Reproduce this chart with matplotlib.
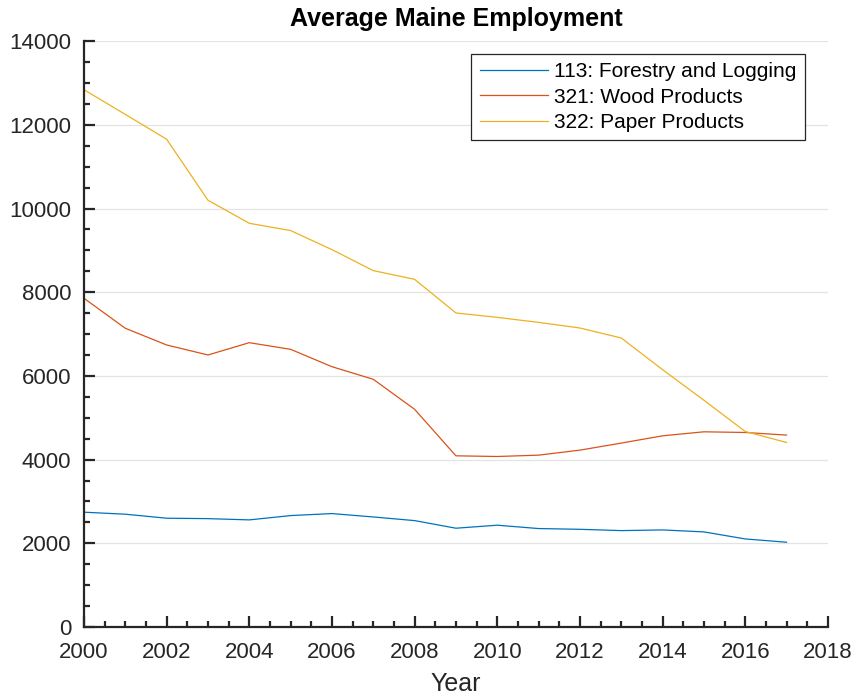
import matplotlib
matplotlib.use("Agg")
import matplotlib.pyplot as plt
from matplotlib.ticker import MultipleLocator

years = list(range(2000, 2018))
forestry = [2744, 2696, 2600, 2590, 2560, 2663, 2711, 2630, 2543, 2361,
            2433, 2353, 2335, 2304, 2320, 2273, 2105, 2026]
wood = [7856, 7139, 6740, 6501, 6795, 6636, 6221, 5920, 5203, 4091,
        4075, 4107, 4227, 4395, 4569, 4665, 4649, 4586]
paper = [12840, 12250, 11657, 10199, 9648, 9474, 9019, 8517, 8309, 7505,
         7400, 7280, 7146, 6907, 6150, 5420, 4673, 4410]
labels = ["113: Forestry and Logging", "321: Wood Products", "322: Paper Products"]
colors = ["#0072BD", "#D95319", "#EDB120"]

plt.rcParams['font.family'] = ['Liberation Sans', 'DejaVu Sans']

axcol = "#262626"
fig = plt.figure(figsize=(8.57, 6.98), dpi=100)
ax = fig.add_axes([0.098, 0.1017, 0.868, 0.8393])

for series, lab, c in zip([forestry, wood, paper], labels, colors):
    ax.plot(years, series, color=c, lw=0.9, label=lab)

ax.set_xlim(2000, 2018)
ax.set_ylim(0, 14000)
ax.xaxis.set_major_locator(MultipleLocator(2))
ax.xaxis.set_minor_locator(MultipleLocator(0.5))
ax.yaxis.set_major_locator(MultipleLocator(2000))
ax.yaxis.set_minor_locator(MultipleLocator(500))
ax.grid(axis='y', which='major', color='#e3e3e3', lw=0.9)
ax.set_axisbelow(True)
for s in ['top', 'right']:
    ax.spines[s].set_visible(False)
for s in ['left', 'bottom']:
    ax.spines[s].set_color(axcol)
    ax.spines[s].set_linewidth(1.6)
ax.tick_params(which='both', direction='in', colors=axcol, labelsize=16, width=1.6)
ax.tick_params(which='major', length=8)
ax.tick_params(which='minor', length=4)
ax.tick_params(axis='x', pad=11)
ax.tick_params(axis='y', pad=9)

ax.set_title("Average Maine Employment", fontsize=18, fontweight='bold', color='black', pad=11)
ax.set_xlabel("Year", fontsize=18, color=axcol, labelpad=6)

leg = ax.legend(loc='upper right', bbox_to_anchor=(0.969, 0.978), fontsize=15,
                frameon=True, fancybox=False, edgecolor='#262626', framealpha=1,
                handlelength=3.27, handletextpad=0.3, borderpad=0.4, labelspacing=0.3,
                borderaxespad=0)
leg.get_frame().set_linewidth(0.9)

fig.savefig("out.png", dpi=100)
